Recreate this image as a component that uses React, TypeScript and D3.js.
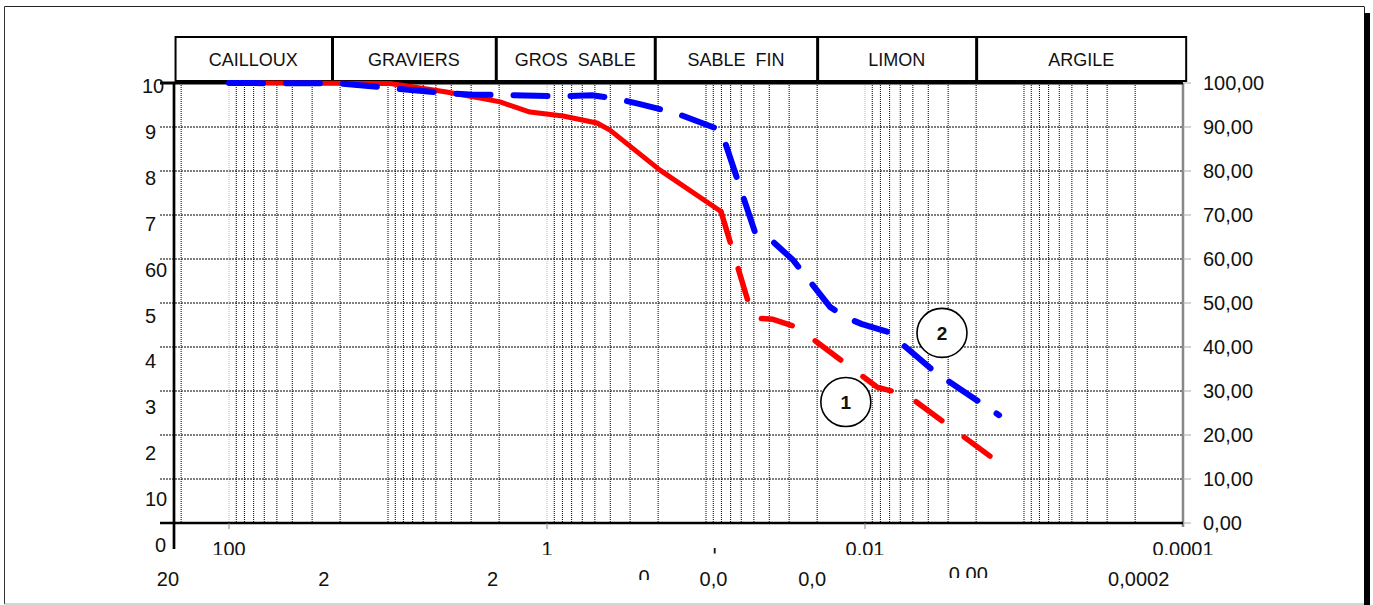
import React from 'react';
import * as d3 from 'd3';

const W = 1373;
const H = 605;
const FONT = '"Liberation Sans", Arial, sans-serif';

const categories = ['CAILLOUX', 'GRAVIERS', 'GROS\u00a0\u00a0SABLE', 'SABLE\u00a0\u00a0FIN', 'LIMON', 'ARGILE'];
const categoryLimits = [220, 22.5, 2.1, 0.21, 0.02, 0.002, 0.0000955];

// Curve 1 (red): sieve part (solid) and sedimentometry part (dashed)
const redSieveD = [100, 9.71, 4.38, 2.64, 1.975, 1.279, 0.793, 0.4847, 0.4016, 0.1947, 0.0805];
const redSieveP = [100, 99.9, 98.0, 96.6, 95.7, 93.4, 92.5, 90.9, 89.3, 80.2, 70.8];
const redSedimD = [0.0805, 0.0506, 0.0379, 0.0268, 0.00841, 0.00647, 0.00521, 0.001637];
const redSedimP = [70.8, 46.6, 46.3, 44.5, 30.9, 29.8, 28.6, 15.2];

// Curve 2 (blue, dashed)
const blueD = [100, 20, 4.38, 3.05, 0.828, 0.521, 0.3735, 0.26, 0.1567, 0.0805, 0.0492, 0.0379, 0.0284, 0.0166, 0.01336, 0.01045, 0.00716, 0.00363, 0.001435];
const blueP = [100, 99.9, 97.7, 97.4, 97.0, 97.2, 96.5, 95.2, 93.2, 89.3, 66.1, 63.9, 59.8, 49.1, 46.8, 45.2, 43.4, 34.3, 24.5];

// Axis ticks
const yTickValues = [0, 10, 20, 30, 40, 50, 60, 70, 80, 90, 100];
const rightTickLabels = ['0,00', '10,00', '20,00', '30,00', '40,00', '50,00', '60,00', '70,00', '80,00', '90,00', '100,00'];
const leftTickLabels = ['0', '10', '2', '3', '4', '5', '60', '7', '8', '9', '10'];
const bottomTickValues = [100, 1, 0.01, 0.0001];
const bottomTickLabels = ['100', '1', '0,01', '0,0001'];
const hiddenTickValue = 0.1;
const hiddenTickLabel = '0,1';
const secondRowValues = [242, 25.3, 2.2, 0.245, 0.0897, 0.0215, 0.00224, 0.00019];
const secondRowLabels = ['20', '2', '2', '0', '0,0', '0,0', '0,00', '0,0002'];
const secondRowClipped = [3, 6];

// Circled curve numbers (grain size, % passing)
const annotLabels = ['1', '2'];
const annotD = [0.0132, 0.00328];
const annotP = [27.5, 43.2];

export default function App() {
  const x = d3.scaleLog().domain([100, 0.0001]).range([229, 1183]);
  const y = d3.scaleLinear().domain([0, 100]).range([523, 83]);
  const yLeftLabel = d3.scaleLinear().domain([0, 100]).range([552, 93]);

  const pts = (ds: number[], ps: number[]): [number, number][] => ds.map((d, i) => [x(d), y(ps[i])]);
  const mk = (ds: number[], ps: number[]) => d3.line()(pts(ds, ps)) || '';
  const polyLen = (p: [number, number][]) => {
    let L = 0;
    for (let i = 1; i < p.length; i++) L += Math.hypot(p[i][0] - p[i - 1][0], p[i][1] - p[i - 1][1]);
    return L;
  };

  // red dashes: start with a dash at the knee and end with a full dash at the last point
  const redDash = 32;
  const redLen = polyLen(pts(redSedimD, redSedimP));
  const nPer = Math.max(1, Math.round((redLen - redDash) / 58));
  const redPeriod = (redLen - redDash) / nPer;
  const redDashArray = `${redDash} ${redPeriod - redDash}`;

  const gridValues: number[] = [200, 100];
  for (let k = 1; k >= -4; k--) {
    for (let m = 1; m <= 9; m++) {
      const v = +(m * Math.pow(10, k)).toPrecision(6);
      if (v > 0.0001) gridValues.push(v);
    }
  }
  const isLight = (v: number) => [100, 1, 0.01].some((a) => Math.abs(a - v) / a < 1e-6);

  const left = 160;
  const plotLeft = 174;
  const plotRight = x(0.0001);
  const top = y(100);
  const bottom = y(0);

  return (
    <svg width={W} height={H} style={{ position: 'absolute', left: 0, top: 0, background: '#fff' }} fontFamily={FONT}>
      <defs>
        <clipPath id="clipHidden">
          <rect x={x(hiddenTickValue) + 7} y={548} width={8} height={5.5} />
        </clipPath>
        <clipPath id="clipRow2a">
          <rect x={0} y={560} width={W} height={20} />
        </clipPath>
        <clipPath id="clipRow2b">
          <rect x={0} y={560} width={W} height={18} />
        </clipPath>
        <clipPath id="clipRow1">
          <rect x={0} y={530} width={W} height={25} />
        </clipPath>
      </defs>
      <rect x={0} y={0} width={W} height={H} fill="#fff" />

      {/* outer frame */}
      <line x1={4.5} y1={6.5} x2={1364} y2={6.5} stroke="#222" strokeWidth={1} />
      <line x1={4.5} y1={6.5} x2={4.5} y2={604} stroke="#333" strokeWidth={1} />
      <line x1={4.5} y1={604} x2={1364} y2={604} stroke="#aaa" strokeWidth={1} />
      <line x1={1364.5} y1={6.5} x2={1364.5} y2={13} stroke="#222" strokeWidth={1} />
      <rect x={1364} y={13} width={6} height={H - 13} fill="#000" />

      {/* vertical grid */}
      {gridValues.map((v, i) => (
        <line
          key={'vg' + i}
          x1={x(v)}
          x2={x(v)}
          y1={top}
          y2={bottom}
          stroke={isLight(v) ? '#bbb' : '#000'}
          strokeWidth={1}
          strokeDasharray="1 1"
        />
      ))}

      {/* horizontal grid */}
      {yTickValues.slice(1, 10).map((v) => (
        <line key={'hg' + v} x1={left} x2={plotRight} y1={y(v)} y2={y(v)} stroke="#000" strokeWidth={1} strokeDasharray="2 1" />
      ))}

      {/* right axis */}
      <line x1={plotRight} x2={plotRight} y1={top} y2={bottom + 4} stroke="#888" strokeWidth={2.5} />
      {yTickValues.map((v) => (
        <line key={'rt' + v} x1={plotRight} x2={plotRight + 8} y1={y(v)} y2={y(v)} stroke="#aaa" strokeWidth={1} />
      ))}
      {yTickValues.map((v, i) => (
        <text key={'rl' + v} x={1203} y={y(v) + 7} fontSize={20} fill="#111">
          {rightTickLabels[i]}
        </text>
      ))}

      {/* top & bottom axis lines */}
      <line x1={left} x2={plotRight} y1={top} y2={top} stroke="#000" strokeWidth={3} />
      <line x1={left} x2={plotRight} y1={bottom} y2={bottom} stroke="#000" strokeWidth={2.5} />
      <line x1={plotLeft} x2={plotLeft} y1={top - 1} y2={549} stroke="#000" strokeWidth={2.7} />

      {/* bottom ticks */}
      {bottomTickValues.slice(0, 3).map((v) => (
        <line key={'bt' + v} x1={x(v)} x2={x(v)} y1={bottom} y2={bottom + 6} stroke="#888" strokeWidth={1} />
      ))}

      {/* left labels */}
      {yTickValues.map((v, i) => (
        <text
          key={'ll' + v}
          x={v === 0 ? 155 : v === 100 ? 142 : 145}
          y={yLeftLabel(v)}
          fontSize={20}
          fill="#111"
        >
          {leftTickLabels[i]}
        </text>
      ))}

      {/* bottom labels, first row */}
      <g clipPath="url(#clipRow1)">
        {bottomTickValues.map((v, i) => (
          <text key={'bl' + v} x={x(v)} y={556} fontSize={20} textAnchor="middle" fill="#111">
            {bottomTickLabels[i]}
          </text>
        ))}
      </g>
      <g clipPath="url(#clipHidden)">
        <text x={x(hiddenTickValue)} y={557} fontSize={20} textAnchor="middle" fill="#111">
          {hiddenTickLabel}
        </text>
      </g>

      {/* bottom labels, second row */}
      {secondRowValues.map((v, i) => {
        const clipped = secondRowClipped.indexOf(i) >= 0;
        const clipId = i === 3 ? 'url(#clipRow2a)' : 'url(#clipRow2b)';
        return (
          <g key={'s2' + i} clipPath={clipped ? clipId : undefined}>
            <text x={x(v)} y={clipped ? (i === 3 ? 584 : 581) : 586} fontSize={20} textAnchor="middle" fill="#111">
              {secondRowLabels[i]}
            </text>
          </g>
        );
      })}

      {/* header boxes */}
      {categories.map((c, i) => {
        const x0 = x(categoryLimits[i]);
        const x1 = x(categoryLimits[i + 1]);
        return (
          <g key={'cat' + i}>
            <rect x={x0 + 1} y={37} width={x1 - x0 - 1} height={44} fill="#fff" stroke="#000" strokeWidth={2} />
            <text x={(x0 + x1) / 2} y={66} fontSize={18} textAnchor="middle" fill="#111">
              {c}
            </text>
          </g>
        );
      })}

      {/* curves */}
      <path d={mk(redSieveD, redSieveP)} fill="none" stroke="#ff0000" strokeWidth={5} strokeLinejoin="round" strokeLinecap="round" />
      <path
        d={mk(redSedimD, redSedimP)}
        fill="none"
        stroke="#ff0000"
        strokeWidth={5.5}
        strokeDasharray={redDashArray}
        strokeLinejoin="round"
        strokeLinecap="round"
      />
      <path
        d={mk(blueD, blueP)}
        fill="none"
        stroke="#0000ff"
        strokeWidth={6}
        strokeDasharray="34 23"
        strokeLinejoin="round"
        strokeLinecap="round"
      />

      {/* circled numbers */}
      {annotLabels.map((t, i) => (
        <g key={'an' + i}>
          <ellipse cx={x(annotD[i])} cy={y(annotP[i])} rx={25} ry={24.5} fill="#fff" stroke="#000" strokeWidth={1.6} />
          <text x={x(annotD[i])} y={y(annotP[i]) + 7} fontSize={19} fontWeight="bold" textAnchor="middle" fill="#111">
            {t}
          </text>
        </g>
      ))}
    </svg>
  );
}
